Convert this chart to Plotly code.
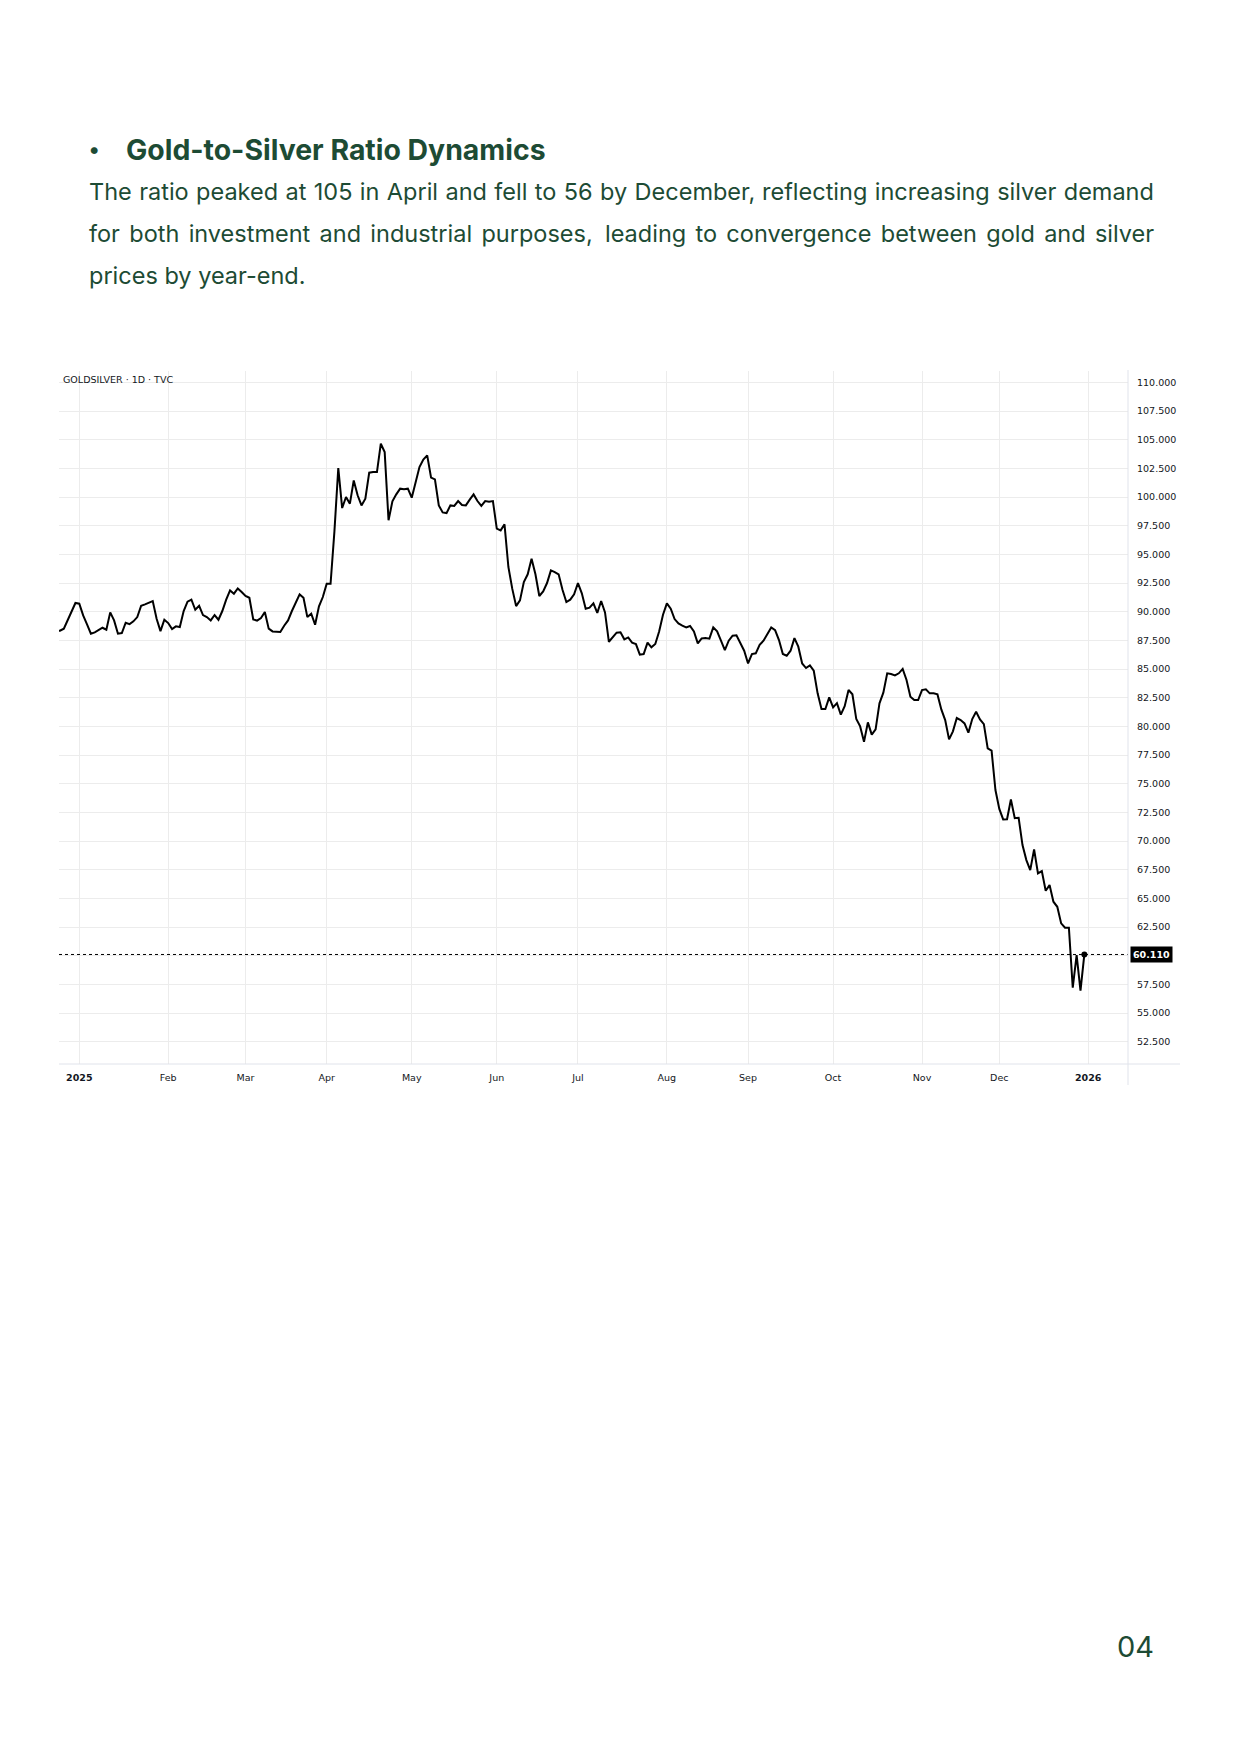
import plotly.graph_objects as go
import pandas as pd

# ---------------- data ----------------
START_DATE = "2024-12-24"   # first daily bar (weekdays only, TradingView style)
END_DATE = "2025-12-31"     # last daily bar

ratio = [
    88.30, 88.34, 88.52, 89.24, 90.06, 90.76,                      # Dec 2024
    90.70, 89.68, 88.90, 88.08, 88.20, 88.37, 88.60, 88.43, 89.94, 89.24,
    88.08, 88.14, 89.04, 88.92, 89.16, 89.53, 90.52, 90.64, 90.81, 90.93,
    89.39, 88.31, 89.30,                                            # Jan
    89.01, 88.49, 88.72, 88.66, 90.06, 90.87, 91.05, 90.17, 90.52, 89.71,
    89.53, 89.24, 89.71, 89.30, 90.06, 91.05, 91.86, 91.57, 92.03, 91.72,  # Feb
    91.37, 91.22, 89.33, 89.22, 89.45, 89.97, 88.52, 88.28, 88.23, 88.23,
    88.78, 89.24, 90.06, 90.76, 91.51, 91.22, 89.53, 89.83, 88.87, 90.47,
    91.28,                                                          # Mar
    92.44, 92.44, 97.00, 102.53, 99.04, 100.00, 99.42, 101.45, 100.15, 99.27,
    99.85, 102.12, 102.18, 102.18, 104.65, 103.92, 97.97, 99.62, 100.23, 100.73,
    100.67, 100.73,                                                 # Apr
    99.94, 101.22, 102.62, 103.26, 103.63, 101.69, 101.54, 99.27, 98.66, 98.60,
    99.27, 99.22, 99.65, 99.30, 99.27, 99.77, 100.23, 99.65, 99.22, 99.65,
    99.59, 99.65,                                                   # May
    97.24, 97.09, 97.62, 93.90, 92.01, 90.49, 90.99, 92.59, 93.26, 94.62,
    93.26, 91.37, 91.77, 92.50, 93.60, 93.46, 93.26, 91.92, 90.84, 91.05,
    91.51,                                                          # Jun
    92.50, 91.60, 90.26, 90.35, 90.72, 89.90, 90.93, 89.94, 87.38, 87.76,
    88.17, 88.20, 87.59, 87.76, 87.30, 87.18, 86.25, 86.31, 87.30, 86.89,
    87.18, 88.28, 89.74,                                            # Jul
    90.73, 90.26, 89.36, 88.98, 88.78, 88.63, 88.75, 88.28, 87.24, 87.67,
    87.70, 87.65, 88.63, 88.28, 87.47, 86.66, 87.47, 87.91, 87.94, 87.30,
    86.60,                                                          # Aug
    85.49, 86.31, 86.37, 87.12, 87.47, 88.05, 88.63, 88.40, 87.53, 86.31,
    86.16, 86.60, 87.70, 86.95, 85.49, 85.09, 85.32, 84.85, 82.88, 81.51,
    81.51, 82.53,                                                   # Sep
    81.66, 82.03, 81.02, 81.76, 83.17, 82.80, 80.64, 80.00, 78.66, 80.35,
    79.28, 79.74, 82.01, 82.94, 84.63, 84.57, 84.45, 84.63, 85.01, 84.05,
    82.59, 82.30, 82.30,                                            # Oct
    83.17, 83.23, 82.88, 82.88, 82.79, 81.48, 80.55, 78.87, 79.57, 80.73,
    80.55, 80.26, 79.45, 80.64, 81.28, 80.61, 80.20, 78.08, 77.88, 74.45,  # Nov
    72.80, 71.89, 71.90, 73.63, 72.00, 72.03, 69.65, 68.34, 67.47, 69.27,
    67.18, 67.38, 65.67, 66.16, 64.71, 64.27, 62.82, 62.44, 62.44, 57.21,
    60.06, 56.95, 60.11,                                            # Dec
]

month_tick_dates = ["2025-01-01", "2025-02-03", "2025-03-03", "2025-04-01",
                    "2025-05-01", "2025-06-02", "2025-07-01", "2025-08-01",
                    "2025-09-01", "2025-10-01", "2025-11-03", "2025-12-01",
                    "2026-01-01"]
month_tick_labels = ["<b>2025</b>", "Feb", "Mar", "Apr", "May", "Jun", "Jul",
                     "Aug", "Sep", "Oct", "Nov", "Dec", "<b>2026</b>"]

price_tick_values = [52.5, 55.0, 57.5, 60.0, 62.5, 65.0, 67.5, 70.0, 72.5, 75.0,
                     77.5, 80.0, 82.5, 85.0, 87.5, 90.0, 92.5, 95.0, 97.5, 100.0,
                     102.5, 105.0, 107.5, 110.0]
price_tick_labels = ["52.500", "55.000", "57.500", "", "62.500", "65.000",
                     "67.500", "70.000", "72.500", "75.000", "77.500", "80.000",
                     "82.500", "85.000", "87.500", "90.000", "92.500", "95.000",
                     "97.500", "100.000", "102.500", "105.000", "107.500",
                     "110.000"]

symbol_label = "GOLDSILVER · 1D · TVC"
heading = "Gold-to-Silver Ratio Dynamics"
# (left part, right part, extra word spacing in px for justification)
body_lines = [
    ("The ratio peaked at 105 in April and fell to 56 by December,",
     "reflecting increasing silver demand", 0.8),
    ("for both investment and industrial purposes,",
     "leading to convergence between gold and silver", 2.7),
    ("prices by year-end.", "", 0.0),
]
page_number = "04"

# ---------------- layout helpers ----------------
# the page body has an 8px default margin, so the figure is offset by 8px
OFF = 8
W, H = 1240 - OFF, 1754 - OFF


def px(x):
    """page x (pixels) -> paper fraction"""
    return (x - OFF) / W


def py(y):
    """page y (pixels) -> paper fraction"""
    return 1 - (y - OFF) / H


GREEN = "#1d4b34"
AXIS_TXT = "#131722"
GRID = "#ececec"
BORDER = "#e0e3eb"
TV_FONT = "DejaVu Sans"
TEXT_FONT = "Inter"
BODY_SIZE = 23.5

dates = pd.bdate_range(START_DATE, END_DATE)
last_value = ratio[-1]

fig = go.Figure()
fig.add_trace(go.Scatter(
    x=dates, y=ratio, mode="lines",
    line=dict(color="#000000", width=2),
    hoverinfo="skip", showlegend=False,
))
fig.add_trace(go.Scatter(
    x=[dates[-1]], y=[last_value], mode="markers",
    marker=dict(color="#000000", size=6),
    hoverinfo="skip", showlegend=False,
))

fig.update_layout(
    width=W, height=H,
    margin=dict(l=0, r=0, t=0, b=0),
    paper_bgcolor="white", plot_bgcolor="white",
    showlegend=False,
    xaxis=dict(
        domain=[px(59), px(1128)],
        type="date",
        range=["2024-12-24 18:00", "2026-01-15 07:00"],
        rangebreaks=[dict(bounds=["sat", "mon"])],
        tickmode="array", tickvals=month_tick_dates, ticktext=month_tick_labels,
        showgrid=True, gridcolor=GRID, gridwidth=1,
        zeroline=False, showline=False, ticks="",
        tickfont=dict(family=TV_FONT, size=9.5, color=AXIS_TXT),
        ticklabelstandoff=6,
        automargin=False, fixedrange=True,
    ),
    yaxis=dict(
        domain=[py(1064), py(371)],
        range=[50.56, 110.99],
        side="right",
        tickmode="array", tickvals=price_tick_values, ticktext=price_tick_labels,
        showgrid=True, gridcolor=GRID, gridwidth=1,
        zeroline=False, showline=False, ticks="",
        tickfont=dict(family=TV_FONT, size=9.5, color=AXIS_TXT),
        ticklabelstandoff=8,
        automargin=False, fixedrange=True,
    ),
)

shapes = [
    # last-price dotted line
    dict(type="line", xref="paper", yref="y", x0=px(59), x1=px(1128),
         y0=last_value, y1=last_value,
         line=dict(color="#000000", width=1, dash="dot")),
    # bottom time-axis separator
    dict(type="line", xref="paper", yref="paper", x0=px(59), x1=px(1180),
         y0=py(1064), y1=py(1064), line=dict(color=BORDER, width=1)),
    # price-axis separator
    dict(type="line", xref="paper", yref="paper", x0=px(1128), x1=px(1128),
         y0=py(370), y1=py(1085), line=dict(color=BORDER, width=1)),
]
fig.update_layout(shapes=shapes)

ann = []
# TradingView symbol caption
ann.append(dict(xref="paper", yref="paper", x=px(61), y=py(379),
                xanchor="left", yanchor="middle", showarrow=False,
                text=symbol_label,
                font=dict(family=TV_FONT, size=9.5, color=AXIS_TXT)))
# last price label
ann.append(dict(xref="paper", yref="y", x=px(1130), y=last_value,
                xanchor="left", yanchor="middle", showarrow=False,
                text=f"<b>{last_value:.3f}</b>", bgcolor="#000000",
                borderpad=2,
                font=dict(family=TV_FONT, size=9.5, color="#ffffff")))
# heading
ann.append(dict(xref="paper", yref="paper", x=px(94), y=py(149),
                xanchor="center", yanchor="middle", showarrow=False,
                text="•", font=dict(family=TEXT_FONT, size=22, color=GREEN)))
ann.append(dict(xref="paper", yref="paper", x=px(124), y=py(149),
                xanchor="left", yanchor="middle", showarrow=False,
                text=f"<b>{heading}</b>",
                font=dict(family=TEXT_FONT, size=28.4, color=GREEN)))


def spaced(txt, ws):
    if ws <= 0:
        return txt
    return f'<span style="word-spacing:{ws}px">{txt}</span>'


# body text (justified: left part anchored left, right part anchored right)
line_y = [192, 234, 275]
for (left_txt, right_txt, ws), yy in zip(body_lines, line_y):
    ann.append(dict(xref="paper", yref="paper", x=px(87), y=py(yy),
                    xanchor="left", yanchor="middle", showarrow=False,
                    text=spaced(left_txt, ws),
                    font=dict(family=TEXT_FONT, size=BODY_SIZE, color=GREEN)))
    if right_txt:
        ann.append(dict(xref="paper", yref="paper", x=px(1156), y=py(yy),
                        xanchor="right", yanchor="middle", showarrow=False,
                        text=spaced(right_txt, ws),
                        font=dict(family=TEXT_FONT, size=BODY_SIZE, color=GREEN)))
# page number
ann.append(dict(xref="paper", yref="paper", x=px(1156), y=py(1646),
                xanchor="right", yanchor="middle", showarrow=False,
                text=page_number,
                font=dict(family=TEXT_FONT, size=29, color=GREEN)))
fig.update_layout(annotations=ann)

fig.write_html("out.html", config={"displayModeBar": False})
